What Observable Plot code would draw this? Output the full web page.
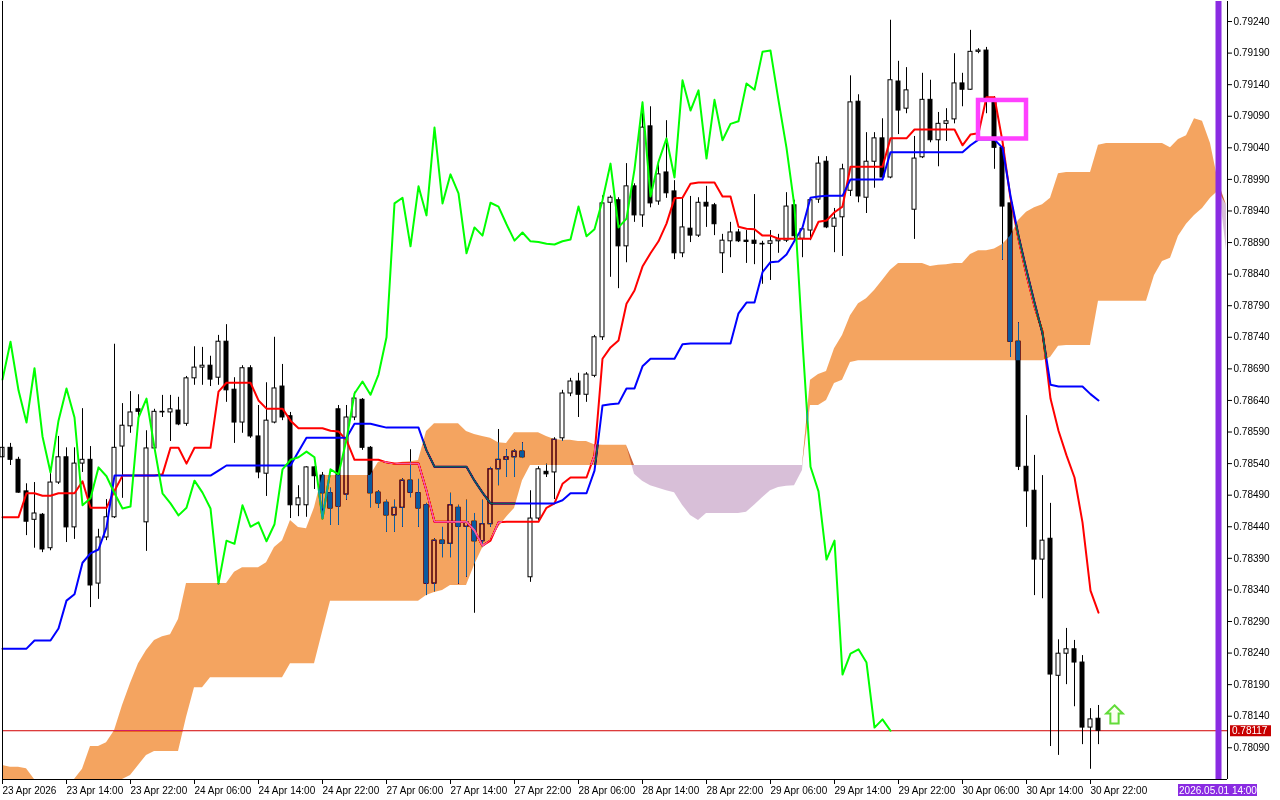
<!DOCTYPE html>
<html><head><meta charset="utf-8">
<script src="https://cdn.jsdelivr.net/npm/d3@7"></script>
<script src="https://cdn.jsdelivr.net/npm/@observablehq/plot@0.6"></script>
<style>
html,body{margin:0;padding:0;background:#fff;}
#chart{position:absolute;left:0;top:0;}
</style></head><body><div id="chart"></div>
<script>
// H1 bars from 23 Apr 2026 06:00 (bar index 0) to 30 Apr 2026 23:00 (bar 137)
const open = [
0.78550,0.78565,0.78546,0.78496,0.78451,0.78459,0.78406,0.78510,0.78550,0.78439,
0.78540,0.78546,0.78350,0.78423,0.78455,0.78567,0.78599,0.78626,0.78447,0.78564,
0.78622,0.78621,0.78624,0.78603,0.78675,0.78692,0.78695,0.78676,0.78733,0.78657,
0.78605,0.78691,0.78583,0.78524,0.78605,0.78662,0.78615,0.78474,0.78474,0.78534,
0.78521,0.78493,0.78626,0.78491,0.78613,0.78641,0.78565,0.78494,0.78478,0.78458,
0.78470,0.78513,0.78493,0.78474,0.78350,0.78418,0.78413,0.78470,0.78440,0.78448,
0.78417,0.78444,0.78531,0.78546,0.78550,0.78559,0.78360,0.78453,0.78527,0.78526,
0.78580,0.78651,0.78670,0.78649,0.78679,0.78740,0.78953,0.78957,0.78884,0.78979,
0.78933,0.79074,0.78955,0.79001,0.78971,0.78873,0.78912,0.78901,0.78953,0.78949,
0.78873,0.78892,0.78906,0.78893,0.78893,0.78888,0.78888,0.78892,0.78893,0.78949,
0.78896,0.78909,0.78958,0.79018,0.78915,0.78930,0.78972,0.79113,0.78961,0.79018,
0.79055,0.78993,0.79145,0.79102,0.78942,0.79025,0.79116,0.79052,0.79078,0.79085,
0.79142,0.79132,0.79192,0.79194,0.79112,0.79040,0.78952,0.78733,0.78535,0.78497,
0.78388,0.78421,0.78204,0.78239,0.78246,0.78225,0.78122,0.78136];
const high = [
0.78572,0.78572,0.78550,0.78508,0.78510,0.78461,0.78526,0.78583,0.78565,0.78565,
0.78627,0.78567,0.78436,0.78483,0.78729,0.78635,0.78654,0.78649,0.78592,0.78626,
0.78648,0.78648,0.78645,0.78678,0.78725,0.78724,0.78710,0.78743,0.78760,0.78676,
0.78695,0.78695,0.78632,0.78668,0.78740,0.78697,0.78621,0.78505,0.78535,0.78535,
0.78526,0.78501,0.78632,0.78632,0.78653,0.78643,0.78567,0.78497,0.78482,0.78482,
0.78516,0.78562,0.78515,0.78477,0.78421,0.78439,0.78493,0.78474,0.78482,0.78461,
0.78482,0.78534,0.78594,0.78562,0.78562,0.78573,0.78497,0.78535,0.78539,0.78581,
0.78656,0.78675,0.78683,0.78684,0.78743,0.78964,0.78964,0.78961,0.79015,0.78983,
0.79112,0.79105,0.79020,0.79083,0.78988,0.78961,0.78963,0.78961,0.78979,0.78952,
0.78903,0.78922,0.78911,0.78909,0.78966,0.78892,0.78909,0.78903,0.78969,0.78957,
0.78915,0.78960,0.79026,0.79026,0.78944,0.79014,0.79154,0.79124,0.79064,0.79064,
0.79086,0.79242,0.79177,0.79167,0.79058,0.79158,0.79147,0.79096,0.79102,0.79189,
0.79158,0.79226,0.79197,0.79199,0.79121,0.79047,0.78957,0.78763,0.78616,0.78553,
0.78521,0.78477,0.78261,0.78279,0.78260,0.78236,0.78152,0.78157];
const low = [
0.78537,0.78537,0.78493,0.78426,0.78406,0.78399,0.78402,0.78507,0.78415,0.78420,
0.78526,0.78312,0.78325,0.78418,0.78453,0.78485,0.78588,0.78608,0.78401,0.78561,
0.78613,0.78575,0.78600,0.78599,0.78664,0.78664,0.78662,0.78664,0.78637,0.78572,
0.78588,0.78580,0.78516,0.78488,0.78603,0.78608,0.78453,0.78456,0.78455,0.78499,
0.78453,0.78442,0.78442,0.78482,0.78608,0.78561,0.78470,0.78469,0.78431,0.78431,
0.78439,0.78486,0.78439,0.78331,0.78337,0.78391,0.78391,0.78349,0.78360,0.78303,
0.78407,0.78439,0.78505,0.78518,0.78518,0.78548,0.78352,0.78450,0.78518,0.78483,
0.78575,0.78646,0.78613,0.78637,0.78676,0.78735,0.78835,0.78817,0.78858,0.78922,
0.78914,0.78945,0.78949,0.78960,0.78863,0.78866,0.78890,0.78898,0.78914,0.78901,
0.78841,0.78866,0.78890,0.78857,0.78855,0.78824,0.78830,0.78873,0.78890,0.78893,
0.78866,0.78893,0.78952,0.78912,0.78874,0.78868,0.78963,0.78953,0.78936,0.78976,
0.78988,0.78991,0.79061,0.79094,0.78895,0.79023,0.79048,0.79010,0.79050,0.79078,
0.79105,0.79131,0.79189,0.79094,0.79006,0.78862,0.78708,0.78529,0.78439,0.78331,
0.78326,0.78092,0.78078,0.78190,0.78155,0.78095,0.78056,0.78095];
const close = [
0.78565,0.78546,0.78494,0.78448,0.78461,0.78404,0.78510,0.78550,0.78439,0.78540,
0.78546,0.78347,0.78423,0.78455,0.78565,0.78600,0.78621,0.78622,0.78564,0.78622,
0.78621,0.78626,0.78602,0.78675,0.78692,0.78695,0.78673,0.78733,0.78656,0.78605,
0.78691,0.78583,0.78526,0.78608,0.78659,0.78613,0.78474,0.78485,0.78534,0.78520,
0.78493,0.78469,0.78472,0.78613,0.78643,0.78565,0.78493,0.78477,0.78458,0.78470,
0.78513,0.78494,0.78469,0.78350,0.78418,0.78413,0.78474,0.78440,0.78447,0.78417,
0.78444,0.78531,0.78546,0.78550,0.78559,0.78550,0.78453,0.78531,0.78523,0.78578,
0.78651,0.78670,0.78649,0.78681,0.78740,0.78952,0.78961,0.78884,0.78979,0.78933,
0.79072,0.78952,0.78998,0.78968,0.78873,0.78914,0.78901,0.78953,0.78947,0.78919,
0.78893,0.78906,0.78892,0.78891,0.78888,0.78887,0.78892,0.78895,0.78947,0.78900,
0.78911,0.78957,0.79015,0.78914,0.78928,0.79006,0.79112,0.78963,0.79018,0.79055,
0.78993,0.79147,0.79099,0.79131,0.79023,0.79116,0.79052,0.79078,0.79082,0.79142,
0.79132,0.79192,0.79194,0.79115,0.79040,0.78947,0.78733,0.78535,0.78496,0.78388,
0.78418,0.78206,0.78239,0.78246,0.78225,0.78122,0.78135,0.78117];

// Tenkan-sen (red), Kijun-sen (blue): one value per bar
const tenkan = [
0.78455,0.78455,0.78455,0.78493,0.78493,0.78489,0.78489,0.78493,0.78493,0.78493,
0.78512,0.78470,0.78470,0.78470,0.78497,0.78521,0.78521,0.78521,0.78521,0.78521,
0.78523,0.78565,0.78565,0.78540,0.78565,0.78565,0.78565,0.78654,0.78668,0.78668,
0.78668,0.78668,0.78640,0.78627,0.78627,0.78627,0.78608,0.78596,0.78596,0.78596,
0.78596,0.78592,0.78591,0.78577,0.78546,0.78546,0.78546,0.78546,0.78542,0.78540,
0.78540,0.78540,0.78540,0.78497,0.78448,0.78448,0.78448,0.78448,0.78448,0.78434,
0.78410,0.78418,0.78447,0.78448,0.78448,0.78448,0.78448,0.78448,0.78470,0.78477,
0.78508,0.78518,0.78518,0.78518,0.78553,0.78706,0.78724,0.78735,0.78793,0.78814,
0.78852,0.78873,0.78892,0.78920,0.78960,0.78961,0.78983,0.78985,0.78985,0.78985,
0.78963,0.78963,0.78915,0.78912,0.78911,0.78901,0.78901,0.78896,0.78896,0.78896,
0.78896,0.78896,0.78923,0.78925,0.78938,0.78947,0.79010,0.79010,0.79010,0.79010,
0.79010,0.79055,0.79055,0.79055,0.79069,0.79069,0.79069,0.79069,0.79069,0.79069,
0.79044,0.79061,0.79063,0.79120,0.79120,0.79050,0.78960,0.78896,0.78839,0.78789,
0.78749,0.78643,0.78592,0.78553,0.78518,0.78447,0.78339,0.78304];
const kijun = [
0.78247,0.78247,0.78247,0.78247,0.78260,0.78260,0.78260,0.78279,0.78323,0.78333,
0.78383,0.78398,0.78404,0.78439,0.78521,0.78521,0.78521,0.78521,0.78521,0.78521,
0.78521,0.78521,0.78521,0.78521,0.78521,0.78521,0.78521,0.78529,0.78537,0.78537,
0.78537,0.78537,0.78537,0.78537,0.78537,0.78537,0.78537,0.78559,0.78581,0.78581,
0.78581,0.78581,0.78581,0.78581,0.78603,0.78603,0.78603,0.78600,0.78597,0.78597,
0.78597,0.78597,0.78597,0.78561,0.78535,0.78535,0.78535,0.78535,0.78535,0.78513,
0.78494,0.78477,0.78477,0.78477,0.78477,0.78477,0.78477,0.78477,0.78477,0.78477,
0.78482,0.78493,0.78493,0.78493,0.78529,0.78632,0.78634,0.78635,0.78659,0.78659,
0.78694,0.78706,0.78706,0.78706,0.78706,0.78729,0.78730,0.78730,0.78730,0.78730,
0.78730,0.78730,0.78778,0.78795,0.78795,0.78843,0.78859,0.78860,0.78871,0.78893,
0.78914,0.78961,0.78963,0.78964,0.78964,0.78964,0.78990,0.78990,0.78990,0.78990,
0.78990,0.79033,0.79033,0.79033,0.79033,0.79033,0.79033,0.79033,0.79033,0.79033,
0.79033,0.79044,0.79053,0.79053,0.79053,0.79040,0.78964,0.78901,0.78846,0.78795,
0.78746,0.78665,0.78662,0.78662,0.78662,0.78662,0.78650,0.78640];
// Chikou span (green), drawn on bars 0..111
const chikou = [
0.78673,0.78733,0.78656,0.78605,0.78691,0.78583,0.78526,0.78608,0.78659,0.78613,
0.78474,0.78485,0.78534,0.78520,0.78493,0.78469,0.78472,0.78613,0.78643,0.78565,
0.78493,0.78477,0.78458,0.78470,0.78513,0.78494,0.78469,0.78350,0.78418,0.78413,
0.78474,0.78440,0.78447,0.78417,0.78444,0.78531,0.78546,0.78550,0.78559,0.78550,
0.78453,0.78531,0.78523,0.78578,0.78651,0.78670,0.78649,0.78681,0.78740,0.78952,
0.78961,0.78884,0.78979,0.78933,0.79072,0.78952,0.78998,0.78968,0.78873,0.78914,
0.78901,0.78953,0.78947,0.78919,0.78893,0.78906,0.78892,0.78891,0.78888,0.78887,
0.78892,0.78895,0.78947,0.78900,0.78911,0.78957,0.79015,0.78914,0.78928,0.79006,
0.79112,0.78963,0.79018,0.79055,0.78993,0.79147,0.79099,0.79131,0.79023,0.79116,
0.79052,0.79078,0.79082,0.79142,0.79132,0.79192,0.79194,0.79115,0.79040,0.78947,
0.78733,0.78535,0.78496,0.78388,0.78418,0.78206,0.78239,0.78246,0.78225,0.78122,
0.78135,0.78117];
// Senkou span A / B as displayed (bars 0..153, i.e. shifted 26 bars forward)
const spanA = [
0.78062,0.78059,0.78059,0.78057,0.78014,0.78000,0.77995,0.77995,0.78000,0.78008,
0.78056,0.78092,0.78092,0.78098,0.78117,0.78157,0.78192,0.78223,0.78244,0.78260,
0.78266,0.78269,0.78293,0.78350,0.78350,0.78350,0.78350,0.78350,0.78350,0.78368,
0.78375,0.78375,0.78375,0.78383,0.78407,0.78418,0.78450,0.78439,0.78437,0.78470,
0.78521,0.78521,0.78521,0.78521,0.78521,0.78521,0.78521,0.78542,0.78543,0.78539,
0.78542,0.78543,0.78545,0.78591,0.78603,0.78603,0.78603,0.78603,0.78591,0.78586,
0.78583,0.78580,0.78573,0.78572,0.78589,0.78589,0.78589,0.78589,0.78583,0.78578,
0.78577,0.78577,0.78575,0.78575,0.78570,0.78569,0.78569,0.78569,0.78569,0.78523,
0.78512,0.78505,0.78501,0.78497,0.78494,0.78474,0.78458,0.78450,0.78461,0.78461,
0.78461,0.78461,0.78461,0.78463,0.78474,0.78486,0.78497,0.78502,0.78504,0.78505,
0.78529,0.78672,0.78681,0.78686,0.78722,0.78743,0.78774,0.78793,0.78801,0.78814,
0.78830,0.78846,0.78857,0.78857,0.78857,0.78857,0.78852,0.78854,0.78855,0.78857,
0.78857,0.78871,0.78877,0.78877,0.78880,0.78887,0.78900,0.78925,0.78938,0.78945,
0.78950,0.78960,0.78999,0.79001,0.79001,0.79001,0.79001,0.79044,0.79047,0.79047,
0.79047,0.79047,0.79047,0.79047,0.79047,0.79047,0.79040,0.79053,0.79059,0.79086,
0.79082,0.79047,0.78985,0.78877];
const spanB = [
0.77960,0.77960,0.77960,0.77960,0.77960,0.77960,0.77960,0.77960,0.77960,0.77960,
0.77960,0.77960,0.77960,0.77960,0.77960,0.78033,0.78046,0.78062,0.78078,0.78084,
0.78084,0.78084,0.78084,0.78138,0.78185,0.78185,0.78201,0.78201,0.78201,0.78201,
0.78201,0.78201,0.78201,0.78201,0.78201,0.78201,0.78223,0.78223,0.78223,0.78223,
0.78273,0.78322,0.78322,0.78322,0.78322,0.78322,0.78322,0.78322,0.78322,0.78322,
0.78322,0.78322,0.78322,0.78331,0.78336,0.78339,0.78347,0.78347,0.78347,0.78379,
0.78406,0.78418,0.78439,0.78455,0.78469,0.78513,0.78537,0.78537,0.78537,0.78537,
0.78537,0.78537,0.78537,0.78537,0.78537,0.78537,0.78537,0.78537,0.78537,0.78537,
0.78537,0.78537,0.78537,0.78537,0.78537,0.78537,0.78537,0.78537,0.78537,0.78537,
0.78537,0.78537,0.78537,0.78537,0.78537,0.78537,0.78537,0.78537,0.78537,0.78537,
0.78537,0.78632,0.78632,0.78640,0.78667,0.78672,0.78700,0.78703,0.78703,0.78703,
0.78703,0.78703,0.78703,0.78703,0.78703,0.78703,0.78703,0.78703,0.78703,0.78703,
0.78703,0.78703,0.78703,0.78703,0.78703,0.78703,0.78703,0.78703,0.78703,0.78703,
0.78703,0.78708,0.78726,0.78727,0.78727,0.78727,0.78727,0.78797,0.78797,0.78797,
0.78797,0.78797,0.78797,0.78797,0.78838,0.78860,0.78865,0.78900,0.78919,0.78933,
0.78944,0.78960,0.78972,0.78949];

const yTicks = [0.78090,0.78140,0.78190,0.78240,0.78290,0.78340,0.78390,0.78440,0.78490,0.78540,
  0.78590,0.78640,0.78690,0.78740,0.78790,0.78840,0.78890,0.78940,0.78990,0.79040,0.79090,0.79140,0.79190,0.79240];
const xTickBars = [0,8,16,24,32,40,48,56,64,72,80,88,96,104,112,120,128,136];
const xTickLabels = ["23 Apr 2026","23 Apr 14:00","23 Apr 22:00","24 Apr 06:00","24 Apr 14:00","24 Apr 22:00",
  "27 Apr 06:00","27 Apr 14:00","27 Apr 22:00","28 Apr 06:00","28 Apr 14:00","28 Apr 22:00",
  "29 Apr 06:00","29 Apr 14:00","29 Apr 22:00","30 Apr 06:00","30 Apr 14:00","30 Apr 22:00"];
const bid = 0.78117;
const markerBar = 152, markerLabel = "2026.05.01 14:00";
const zone = {x1: 122, x2: 128, y1: 0.79054, y2: 0.79115};
const arrowSignal = {bar: 139, price: 0.78143};

const xDomain = [0, 153.125];
const yDomain = [0.780398, 0.792717];

const bars = close.map((c, i) => ({i, o: open[i], h: high[i], l: low[i], c}));
const tk = tenkan.map((v, i) => ({i, v}));
const kj = kijun.map((v, i) => ({i, v}));
const ch = chikou.map((v, i) => ({i, v}));
const cloud = spanA.map((a, i) => ({i, a, b: spanB[i]}));
// keep the cloud inside the plotting frame (the chart window cuts it at its bottom edge)
const inFrame = v => Math.max(v, yDomain[0]);
const FONT = "'Liberation Sans', Arial, sans-serif";

// hollow "up arrow" symbol (Wingdings-style signal arrow)
const upArrow = {
  draw(ctx, size) {
    const r = Math.sqrt(size / Math.PI);
    const hw = r * 0.92, sw = r * 0.46, tip = -r, neck = -r * 0.08, base = r * 1.02;
    ctx.moveTo(0, tip);
    ctx.lineTo(hw, neck);
    ctx.lineTo(sw, neck);
    ctx.lineTo(sw, base);
    ctx.lineTo(-sw, base);
    ctx.lineTo(-sw, neck);
    ctx.lineTo(-hw, neck);
    ctx.closePath();
  }
};

const plot = Plot.plot({
  width: 1280, height: 800,
  marginLeft: 2, marginRight: 53, marginTop: 1, marginBottom: 21,
  style: {background: "#fff", fontFamily: FONT, fontSize: "10px", color: "#000"},
  x: {domain: xDomain, axis: null},
  y: {domain: yDomain, axis: null},
  marks: [
    Plot.frame({fill: "#fff", stroke: "none"}),
    Plot.ruleY([bid], {stroke: "#d20000", strokeWidth: 1}),
    Plot.ruleX(bars, {x: "i", y1: "l", y2: "h", stroke: "#000", strokeWidth: 1}),
    Plot.rect(bars, {x1: d => d.i - 0.25, x2: d => d.i + 0.25, y1: "o", y2: "c",
      fill: d => d.c >= d.o ? "#fff" : "#000", stroke: "#000", strokeWidth: 1}),
    Plot.line(tk, {x: "i", y: "v", stroke: "#ff0000", strokeWidth: 2}),
    Plot.line(kj, {x: "i", y: "v", stroke: "#0000ff", strokeWidth: 2}),
    Plot.line(ch, {x: "i", y: "v", stroke: "#00ff00", strokeWidth: 2}),
    // cloud painted in "difference" mode: white -> sandy brown, black -> dark blue, as in the terminal
    Plot.areaY(cloud, {x: "i", y1: d => inFrame(d.b), y2: d => inFrame(Math.max(d.a, d.b)),
      fill: "#0b5b9f", mixBlendMode: "difference"}),
    Plot.areaY(cloud, {x: "i", y1: d => inFrame(d.a), y2: d => inFrame(Math.max(d.a, d.b)),
      fill: "#274027", mixBlendMode: "difference"}),
    Plot.ruleX([markerBar], {stroke: "#8a2be2", strokeWidth: 6}),
    Plot.rect([zone], {x1: "x1", x2: "x2", y1: "y1", y2: "y2", fill: "none", stroke: "#ff40ff", strokeWidth: 4.5}),
    Plot.dot([arrowSignal], {x: "bar", y: "price", r: 9, symbol: upArrow, fill: "#fbfff0", stroke: "#62dc3a", strokeWidth: 2}),
    Plot.ruleX([xDomain[0], xDomain[1]], {stroke: "#000", strokeWidth: 1}),
    Plot.ruleY([yDomain[0]], {stroke: "#000", strokeWidth: 1}),
    Plot.axisY({anchor: "right", ticks: yTicks, tickFormat: d => d.toFixed(5), tickSize: 4, tickPadding: 2,
      fontSize: 10, fontFamily: FONT}),
    Plot.axisX({anchor: "bottom", ticks: xTickBars, tickFormat: d => xTickLabels[xTickBars.indexOf(d)],
      tickSize: 5, tickPadding: 2, textAnchor: "start", fontSize: 10, fontFamily: FONT})
  ]
});
document.getElementById("chart").appendChild(plot);

// price / time labels on the axes (positions from the plot's own scales)
const sx = plot.scale("x"), sy = plot.scale("y");
const svg = d3.select(plot);
const right = sx.apply(xDomain[1]);
const by = sy.apply(bid);
const g = svg.append("g").attr("text-anchor", "start");
g.append("rect").attr("x", right + 3).attr("y", by - 5).attr("width", 41).attr("height", 11).attr("fill", "#c80000");
g.append("text").attr("x", right + 5).attr("y", by + 0.5).attr("dy", "0.35em").attr("fill", "#fff")
  .attr("text-anchor", "start").style("font", `10px ${FONT}`).text(bid.toFixed(5));
const mx = sx.apply(markerBar), bottom = sy.apply(yDomain[0]);
g.append("rect").attr("x", mx - 40).attr("y", bottom + 5).attr("width", 79).attr("height", 12).attr("fill", "#8a2be2");
g.append("text").attr("x", mx).attr("y", bottom + 11).attr("dy", "0.35em").attr("text-anchor", "middle")
  .attr("fill", "#fff").style("font", `10px ${FONT}`).text(markerLabel);
</script></body></html>
